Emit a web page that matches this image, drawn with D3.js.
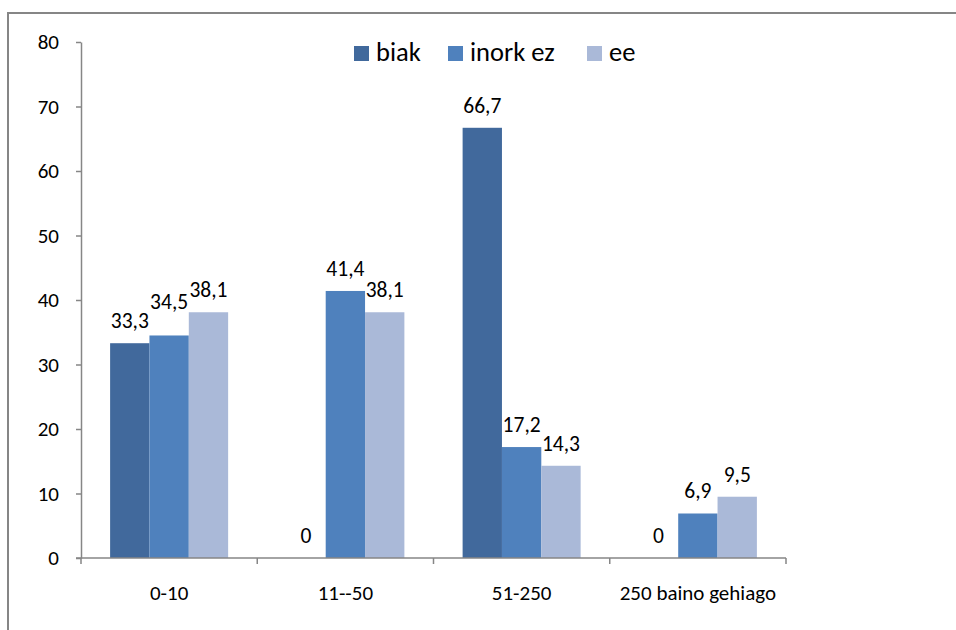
<!DOCTYPE html>
<html>
<head>
<meta charset="utf-8">
<script src="https://cdn.jsdelivr.net/npm/d3@7"></script>
<style>
  html, body { margin: 0; padding: 0; background: #fff; }
  svg { display: block; font-family: Carlito, Calibri, Lato, sans-serif; }
</style>
</head>
<body>
<svg id="chart" width="956" height="630"></svg>
<script>
// Company-size groups and the share (%) for each answer
const categories = ["0-10", "11--50", "51-250", "250 baino gehiago"];
const seriesNames = ["biak", "inork ez", "ee"];
const biak = [33.3, 0, 66.7, 0];
const inorkEz = [34.5, 41.4, 17.2, 6.9];
const ee = [38.1, 38.1, 14.3, 9.5];
const yTicks = [0, 10, 20, 30, 40, 50, 60, 70, 80];
const colors = ["#41699C", "#4F81BD", "#AAB9D8"];

const seriesValues = [biak, inorkEz, ee];
const fmt = v => String(v).replace(".", ",");

const svg = d3.select("#chart");
const plot = { left: 81, right: 786, top: 42, bottom: 558 };

// outer chart frame
svg.append("rect")
  .attr("x", 8).attr("y", 13)
  .attr("width", 960).attr("height", 640)
  .attr("fill", "none").attr("stroke", "#868686").attr("stroke-width", 2);

const x = d3.scaleBand().domain(categories).range([plot.left, plot.right]).padding(0);
const xs = d3.scaleBand().domain(seriesNames).range([0, x.bandwidth()])
  .paddingInner(0).paddingOuter(0.74);
const y = d3.scaleLinear().domain([0, 80]).range([plot.bottom, plot.top]);

// y axis
const yAxis = svg.append("g")
  .attr("transform", `translate(${plot.left},0)`)
  .call(d3.axisLeft(y).tickValues(yTicks).tickSize(5).tickPadding(17).tickSizeOuter(0));
yAxis.select(".domain").attr("stroke", "#868686").attr("stroke-width", 1.5);
yAxis.selectAll(".tick line").attr("stroke", "#868686").attr("stroke-width", 1.5);
yAxis.selectAll(".tick text")
  .attr("font-family", "Carlito, Calibri, Lato, sans-serif")
  .attr("font-size", 21).attr("fill", "#000");

// bars
const groups = svg.append("g").selectAll("g")
  .data(categories)
  .join("g")
  .attr("transform", d => `translate(${x(d)},0)`);

const barData = (c, i) => seriesNames.map((s, k) => ({ s, k, v: seriesValues[k][i], c }));

groups.selectAll("rect")
  .data((c, i) => barData(c, i))
  .join("rect")
  .attr("x", d => xs(d.s))
  .attr("width", xs.bandwidth())
  .attr("y", d => y(d.v))
  .attr("height", d => y(0) - y(d.v))
  .attr("fill", d => colors[d.k]);

// x axis with ticks at category boundaries
const xAxisG = svg.append("g");
xAxisG.append("line")
  .attr("x1", plot.left - 5).attr("x2", plot.right)
  .attr("y1", y(0)).attr("y2", y(0))
  .attr("stroke", "#868686").attr("stroke-width", 1.5);
const bounds = categories.map(c => x(c)).concat([x(categories[categories.length - 1]) + x.bandwidth()]);
xAxisG.selectAll("line.tk")
  .data(bounds)
  .join("line")
  .attr("class", "tk")
  .attr("x1", d => d).attr("x2", d => d)
  .attr("y1", y(0)).attr("y2", y(0) + 6)
  .attr("stroke", "#868686").attr("stroke-width", 1.5);
xAxisG.selectAll("text")
  .data(categories)
  .join("text")
  .attr("x", d => x(d) + x.bandwidth() / 2)
  .attr("y", 600)
  .attr("text-anchor", "middle")
  .attr("font-size", 21)
  .attr("fill", "#000")
  .text(d => d);

// value labels above bars, lifting a label that collides with its left neighbour
const labelG = svg.append("g");
categories.forEach((c, i) => {
  let prev = null;
  barData(c, i).forEach(d => {
    const cx = x(c) + xs(d.s) + xs.bandwidth() / 2;
    let cy = y(d.v) - 22;
    const t = labelG.append("text")
      .attr("x", cx).attr("y", cy)
      .attr("text-anchor", "middle")
      .attr("dominant-baseline", "central")
      .attr("font-size", 21.5)
      .attr("fill", "#000")
      .text(fmt(d.v));
    const bb = t.node().getBBox();
    if (prev && bb.x < prev.x2 + 3 && Math.abs(cy - prev.cy) < 10) {
      cy = prev.cy - 19;
      t.attr("y", cy);
    }
    prev = { x2: bb.x + bb.width, cy };
  });
});

// legend
const legendX = [354, 448, 587];
const legend = svg.append("g");
seriesNames.forEach((s, k) => {
  legend.append("rect")
    .attr("x", legendX[k]).attr("y", 46)
    .attr("width", 15).attr("height", 15)
    .attr("fill", colors[k]);
  legend.append("text")
    .attr("x", legendX[k] + 22).attr("y", 61)
    .attr("font-size", 26.5)
    .attr("fill", "#000")
    .text(s);
});
</script>
</body>
</html>
